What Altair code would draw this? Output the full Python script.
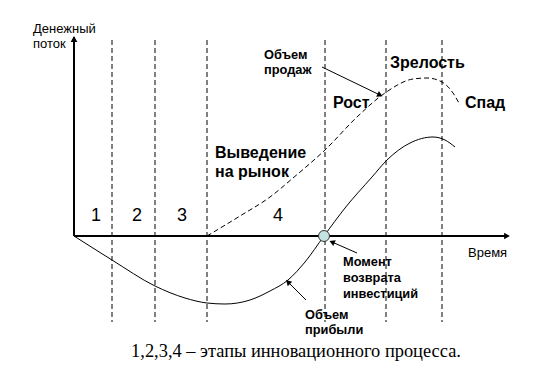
import math
import altair as alt
import pandas as pd

# Diagram units: t = time (0 at origin), v = cash flow (0 on time axis)
profit_t = [0, 38, 81, 111, 133, 151, 176, 196, 214, 231, 250, 271, 298, 313, 336, 359, 371, 381]
profit_v = [0, -24, -50, -62, -67, -68, -64, -55, -44, -26, 0, 28, 59, 76, 93, 99, 96, 89]

sales_t = [133, 166, 196, 219, 252, 283, 311, 339, 353, 368, 379, 386]
sales_v = [0, 20, 39, 58, 87, 119, 143, 157, 158, 154, 143, 131]

stage_bounds = [38, 81, 133, 251, 312, 368]
stage_labels = ["1", "2", "3", "4"]
stage_label_t = [22, 63, 108, 204]

payback_t, payback_v = 250, 0

big_labels = ["Выведение", "на рынок", "Рост", "Зрелость", "Спад"]
big_t = [141, 141, 259, 316, 391]
big_v = [78, 59, 128, 168, 128]

small_labels = ["Объем", "продаж", "Момент", "возврата", "инвестиций", "Объем", "прибыли"]
small_t = [190, 190, 269, 269, 269, 231, 231]
small_v = [177, 162, -30, -46, -62, -83, -98]

axis_labels = ["Денежный", "поток", "Время"]
axis_lab_t = [-41, -41, 394]
axis_lab_v = [203, 188, -21]

caption = "1,2,3,4 – этапы инновационного процесса."

# annotation arrows: (start_t, start_v, end_t, end_v)
arrows = [(248, 169, 306, 141), (283, -17, 258, -6), (232, -64, 214, -46)]

X = alt.Scale(domain=[-66, 464], nice=False, zero=False)
Y = alt.Scale(domain=[-134, 228], nice=False, zero=False)

def xe(f="t"):
    return alt.X(f"{f}:Q", scale=X, axis=None)

def ye(f="v"):
    return alt.Y(f"{f}:Q", scale=Y, axis=None)

profit_df = pd.DataFrame({"t": profit_t, "v": profit_v})
sales_df = pd.DataFrame({"t": sales_t, "v": sales_v})
bounds_df = pd.DataFrame({"t": stage_bounds, "v": [196] * 6, "v2": [-86] * 6})
stage_df = pd.DataFrame({"t": stage_label_t, "v": [20] * 4, "label": stage_labels})
big_df = pd.DataFrame({"t": big_t, "v": big_v, "label": big_labels})
small_df = pd.DataFrame({"t": small_t, "v": small_v, "label": small_labels})
axlab_df = pd.DataFrame({"t": axis_lab_t, "v": axis_lab_v, "label": axis_labels})
cap_df = pd.DataFrame({"t": [222], "v": [-121], "label": [caption]})

arrow_lines = []
arrow_heads = []
for i, (t0, v0, t1, v1) in enumerate(arrows):
    arrow_lines += [{"id": i, "o": 0, "t": t0, "v": v0}, {"id": i, "o": 1, "t": t1, "v": v1}]
    ang = math.degrees(math.atan2(t1 - t0, v1 - v0)) % 360
    arrow_heads.append({"t": t1, "v": v1, "angle": ang})
arrow_lines_df = pd.DataFrame(arrow_lines)
arrow_heads_df = pd.DataFrame(arrow_heads)

axes_df = pd.DataFrame({"t": [0, 0], "v": [0, 0], "t2": [0, 433], "v2": [199, 0]})
axis_heads_df = pd.DataFrame({"t": [0, 433], "v": [197, 0], "shape": ["triangle-up", "triangle-right"]})

FONT = "Liberation Sans"

bounds = alt.Chart(bounds_df).mark_rule(color="black", strokeWidth=1, strokeDash=[5, 3]).encode(
    x=xe(), y=ye(), y2="v2:Q")
axes = alt.Chart(axes_df).mark_rule(color="black", strokeWidth=2).encode(
    x=xe(), y=ye(), x2="t2:Q", y2="v2:Q")
axis_heads = alt.Chart(axis_heads_df).mark_point(filled=True, color="black", size=45, opacity=1).encode(
    x=xe(), y=ye(), shape=alt.Shape("shape:N", scale=None, legend=None))
profit = alt.Chart(profit_df).mark_line(color="black", strokeWidth=1, interpolate="monotone").encode(
    x=xe(), y=ye())
sales = alt.Chart(sales_df).mark_line(color="black", strokeWidth=1, strokeDash=[5, 3], interpolate="monotone").encode(
    x=xe(), y=ye())
a_lines = alt.Chart(arrow_lines_df).mark_line(color="black", strokeWidth=1).encode(
    x=xe(), y=ye(), detail="id:N", order="o:Q")
a_heads = alt.Chart(arrow_heads_df).mark_point(shape="triangle-up", filled=True, color="black", size=40, opacity=1).encode(
    x=xe(), y=ye(), angle=alt.Angle("angle:Q", scale=None))
pt = alt.Chart(pd.DataFrame({"t": [payback_t], "v": [payback_v]})).mark_point(
    shape="circle", filled=True, fill="#c4e4e4", stroke="#333333", strokeWidth=1, size=120, opacity=1).encode(
    x=xe(), y=ye())

stage_txt = alt.Chart(stage_df).mark_text(font=FONT, fontSize=18, align="center", baseline="middle", color="black").encode(
    x=xe(), y=ye(), text="label:N")
big_txt = alt.Chart(big_df).mark_text(font=FONT, fontSize=16, fontWeight="bold", align="left", baseline="alphabetic", color="black").encode(
    x=xe(), y=ye(), text="label:N")
small_txt = alt.Chart(small_df).mark_text(font=FONT, fontSize=12.8, fontWeight="bold", align="left", baseline="alphabetic", color="black").encode(
    x=xe(), y=ye(), text="label:N")
ax_txt = alt.Chart(axlab_df).mark_text(font=FONT, fontSize=13, align="left", baseline="alphabetic", color="black").encode(
    x=xe(), y=ye(), text="label:N")
cap_txt = alt.Chart(cap_df).mark_text(font="Liberation Serif", fontSize=18.4, align="center", baseline="alphabetic", color="black").encode(
    x=xe(), y=ye(), text="label:N")

chart = alt.layer(
    bounds, axes, axis_heads, profit, sales, a_lines, a_heads, pt,
    stage_txt, big_txt, small_txt, ax_txt, cap_txt
).properties(
    width=530, height=362, autosize=alt.AutoSizeParams(type="none"), padding=0, background="white"
).configure_view(stroke=None)

chart.save("out.html", embed_options={"renderer": "svg", "actions": False})
